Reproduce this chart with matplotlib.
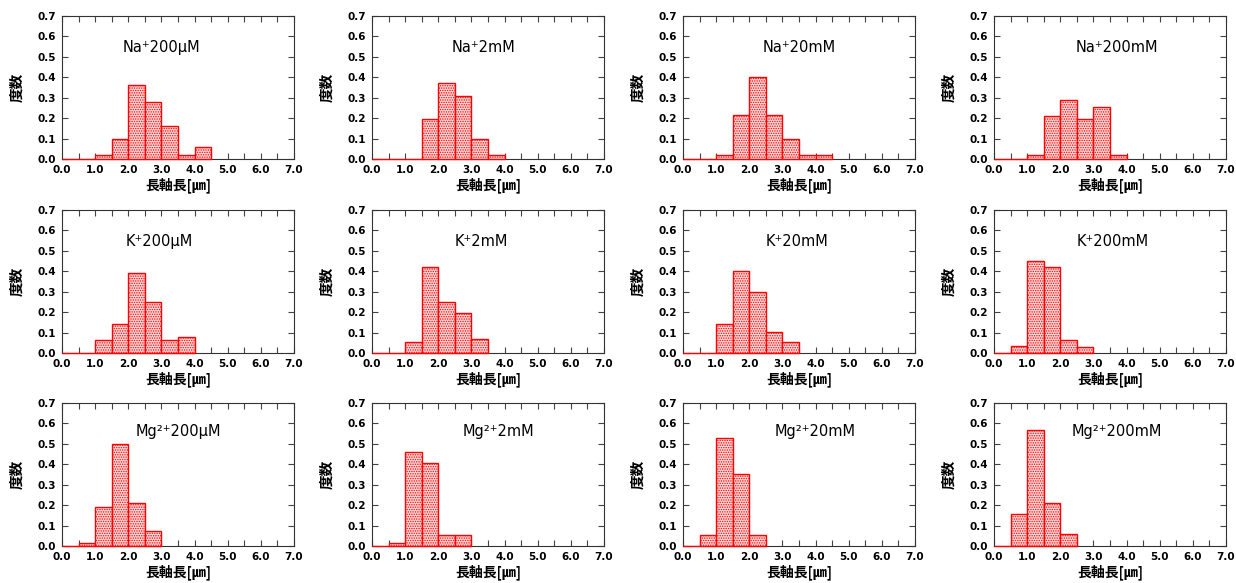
import numpy as np
import matplotlib
matplotlib.use("Agg")
import matplotlib.pyplot as plt
from matplotlib.ticker import MultipleLocator, FormatStrFormatter

plt.rcParams['font.family'] = ['DejaVu Sans', 'Noto Sans CJK JP']
plt.rcParams['hatch.linewidth'] = 0.7

# bin width [um], bins start at 0.0
bin_width = 0.5

titles = [
    "Na⁺200μM", "Na⁺2mM", "Na⁺20mM", "Na⁺200mM",
    "K⁺200μM", "K⁺2mM", "K⁺20mM", "K⁺200mM",
    "Mg²⁺200μM", "Mg²⁺2mM", "Mg²⁺20mM", "Mg²⁺200mM",
]

# relative frequency per bin
na_200uM = [0, 0, 0.02, 0.10, 0.36, 0.28, 0.16, 0.02, 0.06]
na_2mM = [0, 0, 0, 0.195, 0.37, 0.31, 0.10, 0.02]
na_20mM = [0, 0, 0.02, 0.215, 0.40, 0.215, 0.10, 0.02, 0.02]
na_200mM = [0, 0, 0.02, 0.21, 0.29, 0.195, 0.255, 0.02]

k_200uM = [0, 0, 0.062, 0.14, 0.394, 0.25, 0.062, 0.077]
k_2mM = [0, 0, 0.054, 0.423, 0.25, 0.194, 0.067]
k_20mM = [0, 0, 0.14, 0.402, 0.298, 0.104, 0.054]
k_200mM = [0, 0.036, 0.448, 0.423, 0.062, 0.028]

mg_200uM = [0, 0.015, 0.19, 0.50, 0.21, 0.073]
mg_2mM = [0, 0.015, 0.46, 0.408, 0.052, 0.052]
mg_20mM = [0, 0.055, 0.528, 0.352, 0.055]
mg_200mM = [0, 0.157, 0.568, 0.21, 0.057]

series = [na_200uM, na_2mM, na_20mM, na_200mM,
          k_200uM, k_2mM, k_20mM, k_200mM,
          mg_200uM, mg_2mM, mg_20mM, mg_200mM]

# where the label sits inside each panel (axes fraction)
title_x = [0.43, 0.48, 0.50, 0.53,
           0.42, 0.47, 0.49, 0.51,
           0.50, 0.545, 0.57, 0.53]
title_y = [0.78, 0.78, 0.78, 0.78,
           0.78, 0.78, 0.78, 0.78,
           0.80, 0.80, 0.80, 0.80]

W, H = 1236, 583
fig = plt.figure(figsize=(W / 100, H / 100), dpi=100)

col_left = [62, 372, 683, 994]
row_top = [16, 210, 403]
ax_w, ax_h = 232, 143
cjk = ['Noto Sans CJK JP', 'DejaVu Sans']

for i, vals in enumerate(series):
    r, c = divmod(i, 4)
    ax = fig.add_axes([col_left[c] / W, 1 - (row_top[r] + ax_h) / H, ax_w / W, ax_h / H])
    edges = np.arange(len(vals)) * bin_width
    ax.bar(edges, vals, width=bin_width, align='edge', facecolor='#ffdcdc',
           edgecolor='red', hatch='.......', linewidth=1.0, zorder=3, clip_on=False)
    ax.set_xlim(0, 7)
    ax.set_ylim(0, 0.7)
    ax.xaxis.set_major_locator(MultipleLocator(1.0))
    ax.xaxis.set_minor_locator(MultipleLocator(0.5))
    ax.yaxis.set_major_locator(MultipleLocator(0.1))
    ax.xaxis.set_major_formatter(FormatStrFormatter('%.1f'))
    ax.yaxis.set_major_formatter(FormatStrFormatter('%.1f'))
    ax.tick_params(which='both', direction='in', top=True, right=True,
                   length=4, width=0.8, color='#444444', labelsize=7.5, pad=4)
    for lab in ax.get_xticklabels() + ax.get_yticklabels():
        lab.set_fontweight('bold')
    for sp in ax.spines.values():
        sp.set_linewidth(0.8)
        sp.set_color('#333333')
    ax.set_xlabel("長軸長[㎛]", family=cjk, fontweight='bold', fontsize=10, labelpad=2)
    ax.set_ylabel("度数", family=cjk, fontweight='bold', fontsize=10.5, labelpad=10)
    ax.text(title_x[i], title_y[i], titles[i], transform=ax.transAxes,
            ha='center', va='center', fontsize=10.5)

fig.savefig("out.png", dpi=100)
